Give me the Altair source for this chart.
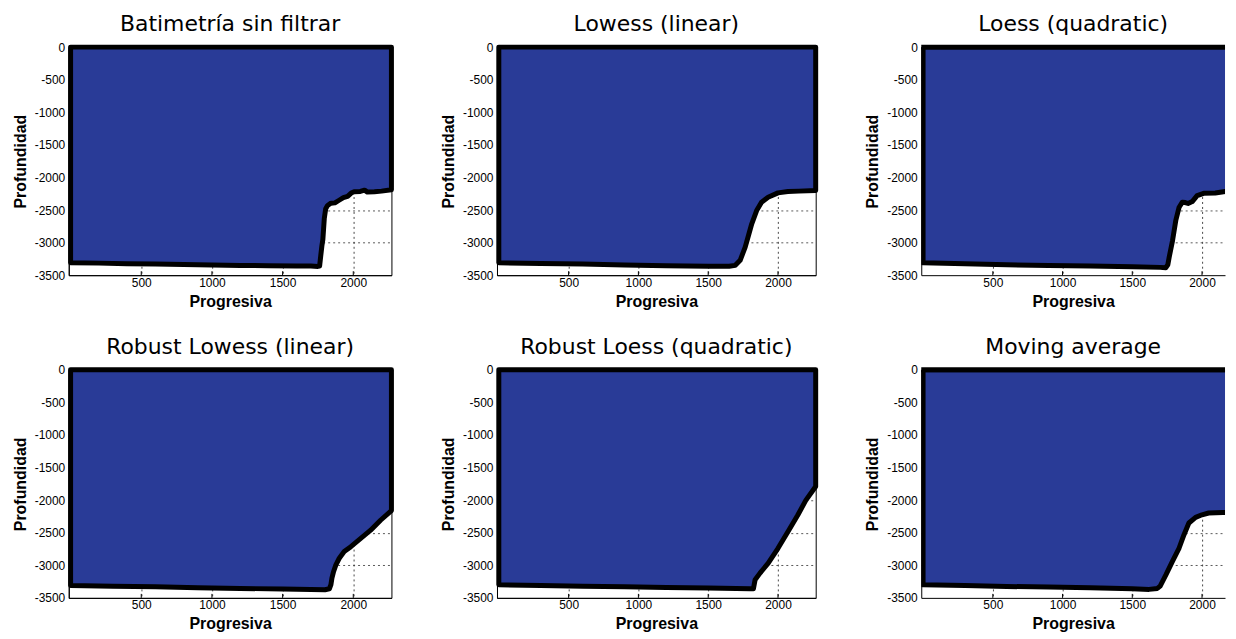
import altair as alt
import pandas as pd

titles = ["Batimetría sin filtrar", "Lowess (linear)", "Loess (quadratic)",
          "Robust Lowess (linear)", "Robust Loess (quadratic)", "Moving average"]

# Panel 1: raw bathymetry
raw_x = [0, 200, 400, 600, 800, 1000, 1200, 1400, 1600, 1700, 1750, 1762, 1770, 1778,
         1785, 1795, 1805, 1818, 1842, 1870, 1900, 1930, 1960, 1985, 2006, 2050, 2080,
         2100, 2150, 2200, 2270]
raw_y = [-3310, -3315, -3325, -3330, -3335, -3345, -3350, -3355, -3360, -3360, -3365,
         -3360, -3200, -3050, -2950, -2630, -2480, -2430, -2395, -2390, -2350, -2310,
         -2290, -2240, -2220, -2215, -2195, -2225, -2220, -2210, -2190]

# Panel 2: Lowess (linear)
lowess_x = [0, 300, 600, 900, 1200, 1500, 1650, 1694, 1729, 1765, 1790, 1812, 1847,
            1882, 1929, 2000, 2071, 2150, 2270]
lowess_y = [-3310, -3320, -3330, -3345, -3355, -3362, -3364, -3349, -3272, -3069,
            -2880, -2711, -2508, -2380, -2304, -2237, -2217, -2210, -2200]

# Panel 3: Loess (quadratic)
loess_x = [0, 300, 600, 900, 1200, 1500, 1700, 1740, 1755, 1765, 1789, 1812, 1836,
           1859, 1880, 1900, 1930, 1965, 2012, 2095, 2166, 2231, 2270]
loess_y = [-3310, -3325, -3340, -3350, -3360, -3370, -3380, -3385, -3340, -3221,
           -2966, -2661, -2457, -2380, -2385, -2400, -2370, -2278, -2243, -2240,
           -2217, -2202, -2195]

# Panel 4: Robust Lowess (linear)
rlowess_x = [0, 300, 600, 900, 1200, 1500, 1700, 1800, 1831, 1842, 1849, 1861, 1877,
             1901, 1936, 1983, 2053, 2123, 2193, 2270]
rlowess_y = [-3310, -3320, -3330, -3345, -3355, -3365, -3370, -3375, -3360, -3298,
             -3196, -3095, -2994, -2892, -2790, -2714, -2588, -2461, -2309, -2160]

# Panel 5: Robust Loess (quadratic)
rloess_x = [0, 300, 600, 900, 1200, 1500, 1700, 1800, 1824, 1836, 1871, 1930, 2000,
            2071, 2141, 2199, 2270]
rloess_y = [-3300, -3310, -3320, -3330, -3340, -3350, -3355, -3360, -3359, -3222,
            -3120, -2968, -2740, -2486, -2233, -2004, -1790]

# Panel 6: Moving average
mavg_x = [0, 300, 600, 900, 1200, 1500, 1620, 1680, 1700, 1742, 1788, 1836, 1871,
          1906, 1954, 2000, 2048, 2150, 2270]
mavg_y = [-3300, -3310, -3325, -3335, -3345, -3360, -3370, -3355, -3320, -3144,
          -2939, -2735, -2531, -2351, -2264, -2225, -2198, -2190, -2180]

x_ticks = [500, 1000, 1500, 2000]
y_ticks = [0, -500, -1000, -1500, -2000, -2500, -3000, -3500]

profiles = [(raw_x, raw_y), (lowess_x, lowess_y), (loess_x, loess_y),
            (rlowess_x, rlowess_y), (rloess_x, rloess_y), (mavg_x, mavg_y)]

BLUE = "#293B97"
WIDTHS = [324, 320, 305]
XMIN = -13
XMAX = [2270, 2270, 2165]
H = 229

grid_y_opacity = {"condition": {"test": "datum.value == 0 || datum.value == -3500",
                                "value": 0}, "value": 0.9}


def panel(idx):
    col = idx % 3
    xs, ys = profiles[idx]
    df = pd.DataFrame({"x": xs, "y": ys})
    xscale = alt.Scale(domain=[XMIN, XMAX[col]], nice=False, zero=False)
    yscale = alt.Scale(domain=[-3500, 0], nice=False, zero=False)
    area = alt.Chart(df).mark_area(
        color=BLUE, stroke="black", strokeWidth=5, clip=(col == 2),
        strokeJoin="round"
    ).encode(
        x=alt.X("x:Q", scale=xscale,
                axis=alt.Axis(values=x_ticks, title="Progresiva", grid=True,
                              labelPadding=2, titlePadding=5,
                              labelExpr="'' + datum.value")),
        y=alt.Y("y:Q", scale=yscale,
                axis=alt.Axis(values=y_ticks, title="Profundidad", grid=True,
                              labelPadding=4, titlePadding=6,
                              gridOpacity=grid_y_opacity,
                              labelExpr="'' + datum.value")),
        y2=alt.datum(0),
    )
    ticks = alt.Chart(pd.DataFrame({"x": x_ticks})).mark_rule(
        color="black", strokeWidth=1
    ).encode(
        x=alt.X("x:Q", scale=xscale),
        y=alt.value(H),
        y2=alt.value(H - 4),
    )
    layers = [area, ticks]
    if col == 2:
        top_edge = alt.Chart(pd.DataFrame({"x": [0]})).mark_rule(
            color="black", strokeWidth=5
        ).encode(x=alt.value(0), x2=alt.value(WIDTHS[col]), y=alt.value(0))
        layers.append(top_edge)
    layer = alt.layer(*layers).properties(
        width=WIDTHS[col], height=H,
        title=alt.TitleParams(titles[idx]),
    )
    if col == 2:
        layer = layer.properties(view=alt.ViewBackground(stroke="transparent"))
    return layer


row1 = alt.hconcat(panel(0), panel(1), panel(2), spacing=45)
row2 = alt.hconcat(panel(3), panel(4), panel(5), spacing=45)

chart = alt.vconcat(row1, row2, spacing=25).properties(
    padding={"left": 3, "top": 3, "right": 0, "bottom": 0}
).configure_view(
    stroke="black", strokeWidth=1
).configure_axis(
    labelFont="Liberation Sans", labelFontSize=12, labelColor="black",
    titleFont="Liberation Sans", titleFontSize=16, titleFontWeight="bold",
    titleColor="black", domainColor="black", domainWidth=1, ticks=False,
    gridColor="#333333", gridDash=[2, 3], gridWidth=1, gridOpacity=0.9,
).configure_title(
    font="DejaVu Sans", fontSize=22, fontWeight="normal", color="black",
    anchor="middle", offset=5,
)

chart.save("out.html", embed_options={"renderer": "svg", "actions": False})
